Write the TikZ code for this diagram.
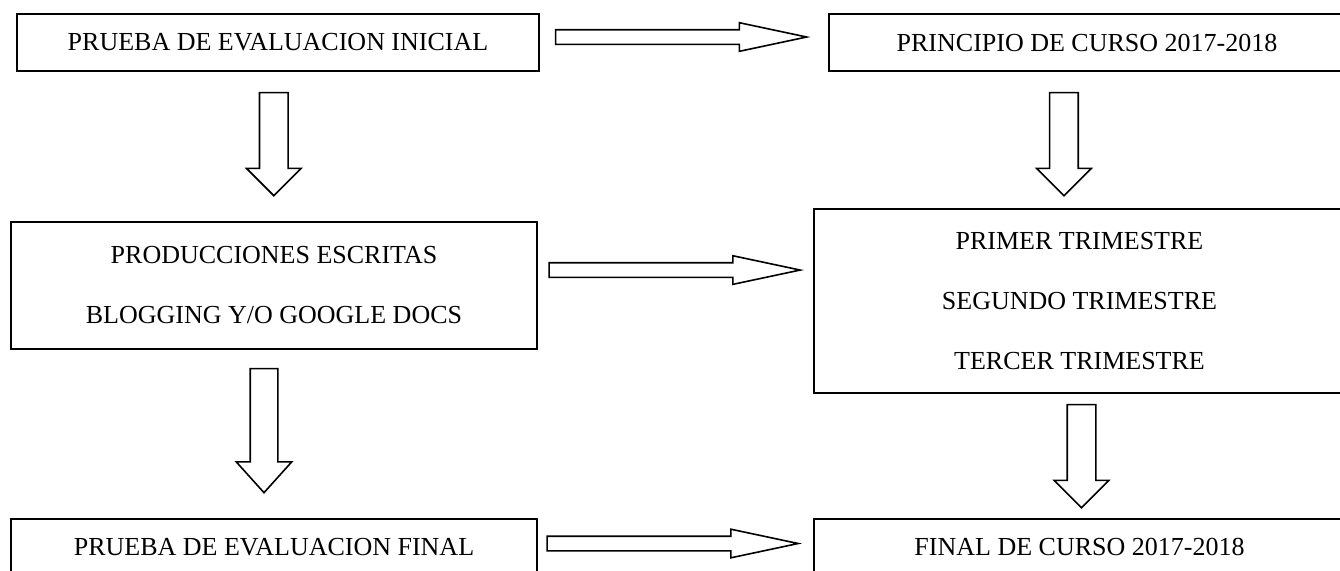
\documentclass[tikz,border=0pt]{standalone}
\usepackage{fontspec}
\setmainfont{Liberation Serif}
\usetikzlibrary{shapes.arrows}

\begin{document}
\begin{tikzpicture}[
		x=0.5pt, y=-0.5pt,
		box/.style={draw, line width=1pt, inner sep=0pt, align=center, font=\fontsize{13}{30}\selectfont},
		harrow/.style={single arrow, draw, line width=0.8pt, inner xsep=0pt, inner ysep=3.25pt, single arrow head extend=3.5pt, single arrow tip angle=24, minimum width=13.5pt, minimum height=125.5pt},
		varrow/.style={single arrow, draw, line width=0.8pt, inner xsep=0pt, inner ysep=6.75pt, single arrow head extend=6.5pt, single arrow tip angle=90, minimum width=26.5pt, minimum height=51.5pt}
		]
		\useasboundingbox (0,0) rectangle (1340,570);
		\clip (0,0) rectangle (1340,570);
		
		% Left column
		\node[box, minimum width=261pt, minimum height=28.5pt] (inicial) at (278,42.5) {PRUEBA DE EVALUACION INICIAL};
		\node[box, minimum width=263pt, minimum height=63.5pt] (produc) at (274,285.5) {PRODUCCIONES ESCRITAS\\BLOGGING Y/O GOOGLE DOCS};
		\node[box, minimum width=263pt, minimum height=28pt] (final) at (274,547) {PRUEBA DE EVALUACION FINAL};
		
		% Right column
		\node[box, minimum width=258pt, minimum height=28.5pt] (principio) at (1087,42.5) {PRINCIPIO DE CURSO 2017-2018};
		\node[box, minimum width=265.5pt, minimum height=92pt] (trimestres) at (1079.5,301) {PRIMER TRIMESTRE\\SEGUNDO TRIMESTRE\\TERCER TRIMESTRE};
		\node[box, minimum width=265.5pt, minimum height=28pt] (fincurso) at (1079.5,547) {FINAL DE CURSO 2017-2018};
		
		% Arrows across
		\path (inicial) -- node[harrow, xshift=-10pt, yshift=2.75pt] (a1) {} (principio);
		\path (produc) -- node[harrow, xshift=-9pt, yshift=11.6pt] (a2) {} (trimestres);
		\path (final) -- node[harrow, xshift=-10pt, yshift=1.75pt] (a3) {} (fincurso);
		
		% Arrows down
		\path (inicial) -- node[varrow, xshift=-1.25pt, yshift=4.75pt, rotate=-90] (d1) {} (produc);
		\path (produc) -- node[varrow, xshift=-5pt, yshift=5.5pt, rotate=-90, inner ysep=6.5pt, single arrow head extend=7pt, single arrow tip angle=84, minimum width=27pt, minimum height=62pt] (d2) {} (final);
		\path (principio) -- node[varrow, xshift=-10.1pt, yshift=1.5pt, rotate=-90] (d3) {} (trimestres);
		\path (trimestres) -- node[varrow, xshift=1pt, yshift=3.5pt, rotate=-90] (d4) {} (fincurso);
		
	\end{tikzpicture}
\end{document}
